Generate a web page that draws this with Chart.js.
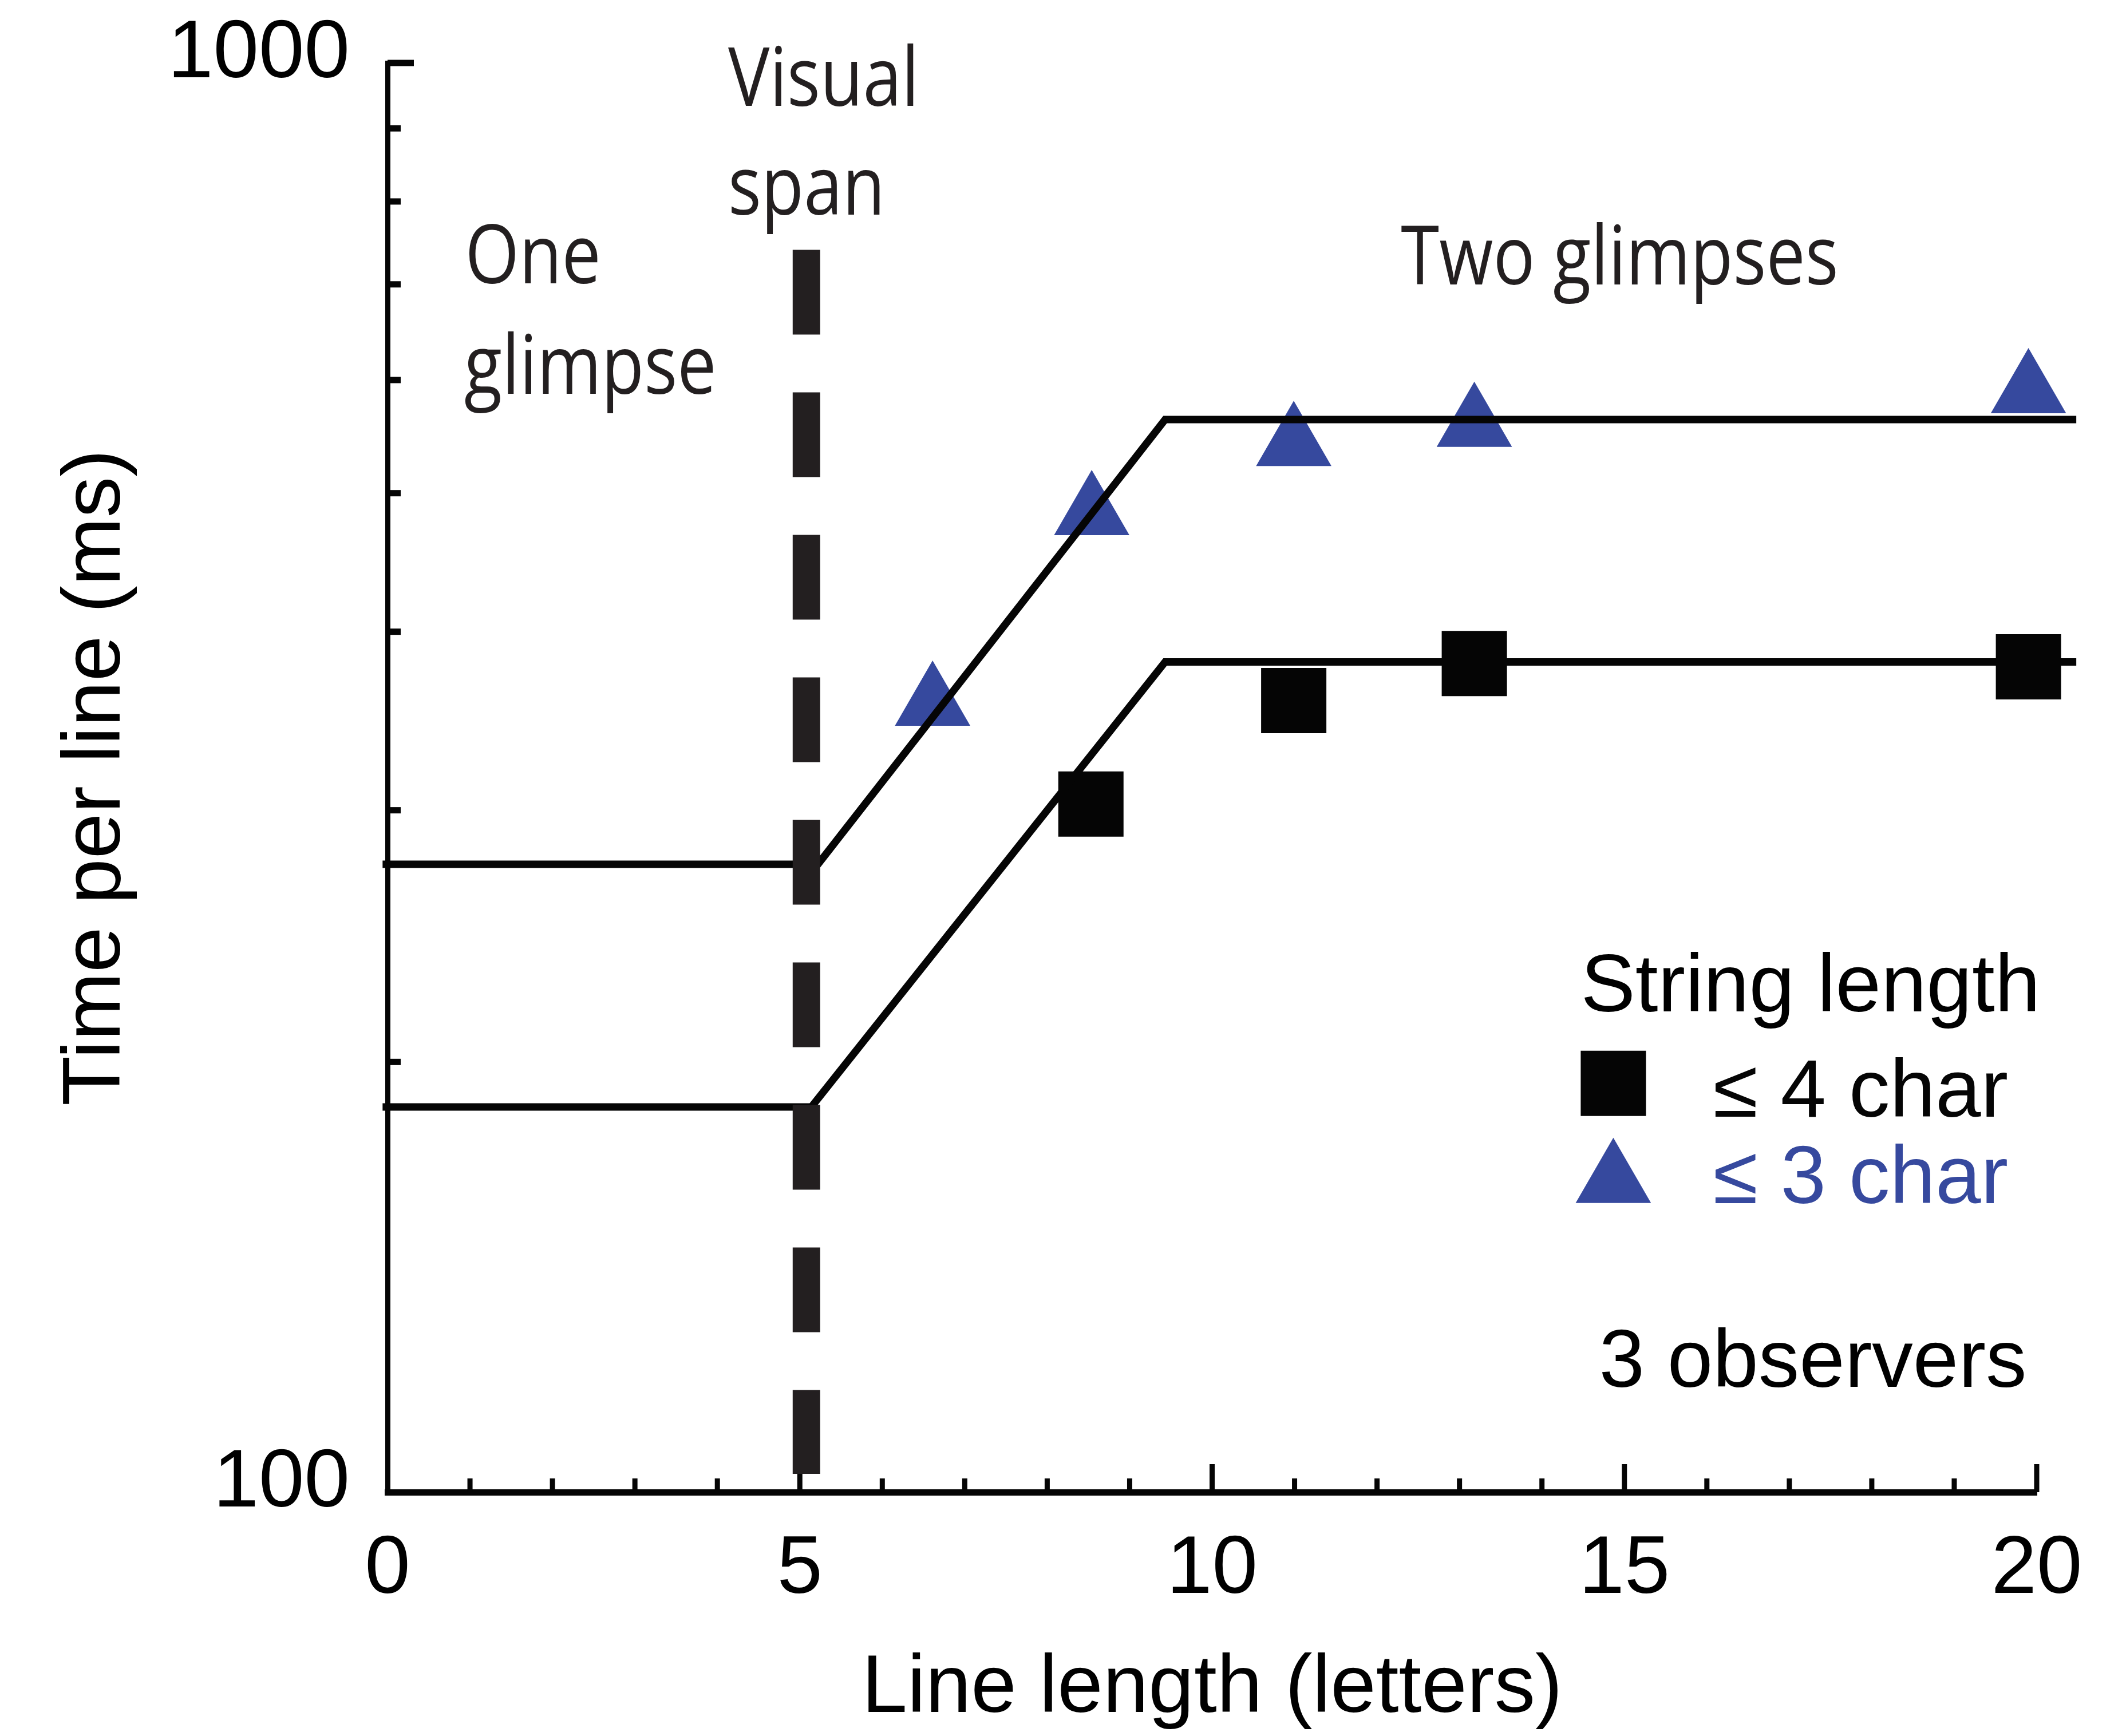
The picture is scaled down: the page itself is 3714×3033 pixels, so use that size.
<!DOCTYPE html>
<html>
<head>
<meta charset="utf-8">
<script src="https://cdn.jsdelivr.net/npm/chart.js@4.4.1/dist/chart.umd.min.js"></script>
<style>
html, body { margin: 0; padding: 0; background: #fff; }
canvas { display: block; }
</style>
</head>
<body>
<canvas id="grafico" width="3714" height="3033"></canvas>
<script>
// data
var triangleX = [6.61, 8.54, 10.99, 13.18, 19.9];
var triangleY = [356, 484, 541, 558, 589];
var squareX = [8.53, 10.99, 13.18, 19.9];
var squareY = [303, 358, 380, 378];

var fitUpperX = [-0.06, 5.22, 9.43, 20.48];
var fitUpperY = [275, 275, 563, 563];
var fitLowerX = [-0.06, 5.14, 9.43, 20.48];
var fitLowerY = [186, 186, 381, 381];

var spanX = [5.08, 5.08];
var spanY = [740, 103];

var xTickLabels = [0, 5, 10, 15, 20];
var yTickLabels = [100, 1000];

var notes = ['Visual', 'span', 'One', 'glimpse', 'Two glimpses'];
var notesX = [4.13, 4.13, 0.94, 0.93, 12.29];
var notesY = [933, 783, 701, 587, 700];

var legendTitle = 'String length';
var legendLabels = ['\u2264 4 char', '\u2264 3 char'];
var observersText = '3 observers';
var legendAnchor = [14.47, 217];

var BLUE = '#36499e';
var BLACK = '#050505';
var FONT = '"Liberation Sans", Arial, sans-serif';

function pts(xs, ys) {
    return xs.map(function (v, i) { return { x: v, y: ys[i] }; });
}

// inward tick marks, drawn from the scales' own ticks
var innerTicks = {
    id: 'innerTicks',
    beforeDatasetsDraw: function (chart) {
        var ctx = chart.ctx, area = chart.chartArea;
        var xs = chart.scales.x, ys = chart.scales.y;
        ctx.save();
        ctx.strokeStyle = BLACK;
        ctx.lineCap = 'butt';
        ctx.lineWidth = 9;
        xs.ticks.forEach(function (t) {
            if (t.value <= 0 || t.value % 1 !== 0) return;
            var px = xs.getPixelForValue(t.value);
            var len = t.value % 5 === 0 ? 49 : 24;
            ctx.beginPath();
            ctx.moveTo(px, area.bottom);
            ctx.lineTo(px, area.bottom - len);
            ctx.stroke();
        });
        ctx.lineWidth = 11;
        ys.ticks.forEach(function (t) {
            if (t.value <= 100 || Math.abs(t.value % 100) > 1e-6) return;
            var py = ys.getPixelForValue(t.value);
            var len = t.value === 1000 ? 46 : 23;
            ctx.beginPath();
            ctx.moveTo(area.left, py);
            ctx.lineTo(area.left + len, py);
            ctx.stroke();
        });
        ctx.restore();
    }
};

var textLayer = {
    id: 'textLayer',
    afterDraw: function (chart) {
        var ctx = chart.ctx;
        var xs = chart.scales.x, ys = chart.scales.y;
        ctx.save();
        ctx.textBaseline = 'alphabetic';
        ctx.textAlign = 'left';

        // condensed annotation text
        ctx.fillStyle = '#231f20';
        ctx.font = '143px "Open Sans"';
        notes.forEach(function (txt, i) {
            ctx.save();
            ctx.translate(xs.getPixelForValue(notesX[i]), ys.getPixelForValue(notesY[i]));
            ctx.scale(0.85, 1);
            ctx.fillText(txt, 0, 0);
            ctx.restore();
        });

        // legend
        var lx = xs.getPixelForValue(legendAnchor[0]);
        var ly = ys.getPixelForValue(legendAnchor[1]);
        ctx.font = '143px ' + FONT;
        ctx.fillStyle = '#000';
        ctx.fillText(legendTitle, lx, ly);

        ctx.fillStyle = BLACK;
        Chart.helpers.drawPoint(ctx, { pointStyle: 'rect', radius: 80.6, rotation: 0, borderWidth: 0 }, lx + 57, ly + 126);
        ctx.fillText(legendLabels[0], lx + 231, ly + 184);

        ctx.fillStyle = BLUE;
        Chart.helpers.drawPoint(ctx, { pointStyle: 'triangle', radius: 76, rotation: 0, borderWidth: 0 }, lx + 57, ly + 297);
        ctx.fillText(legendLabels[1], lx + 231, ly + 335);

        ctx.fillStyle = '#000';
        ctx.fillText(observersText, lx + 32, ly + 656);
        ctx.restore();
    }
};

Chart.defaults.font.family = FONT;
Chart.defaults.color = '#000';

var ctx = document.getElementById('grafico').getContext('2d');
var chart = new Chart(ctx, {
    type: 'line',
    data: {
        datasets: [{
            label: 'Visual span',
            data: pts(spanX, spanY),
            borderColor: '#231f20',
            borderWidth: 48,
            borderDash: [148, 101],
            borderCapStyle: 'butt',
            pointRadius: 0,
            clip: false,
            order: 0
        }, {
            label: 'fit 3 char',
            data: pts(fitUpperX, fitUpperY),
            borderColor: BLACK,
            borderWidth: 13,
            pointRadius: 0,
            tension: 0,
            clip: false,
            order: 1
        }, {
            label: 'fit 4 char',
            data: pts(fitLowerX, fitLowerY),
            borderColor: BLACK,
            borderWidth: 13,
            pointRadius: 0,
            tension: 0,
            clip: false,
            order: 1
        }, {
            label: legendLabels[0],
            data: pts(squareX, squareY),
            showLine: false,
            pointStyle: 'rect',
            pointRadius: 80.6,
            pointBackgroundColor: BLACK,
            pointBorderWidth: 0,
            clip: false,
            order: 2
        }, {
            label: legendLabels[1],
            data: pts(triangleX, triangleY),
            showLine: false,
            pointStyle: 'triangle',
            pointRadius: 76,
            pointBackgroundColor: BLUE,
            pointBorderWidth: 0,
            clip: false,
            order: 2
        }]
    },
    options: {
        responsive: false,
        animation: false,
        devicePixelRatio: 1,
        layout: { padding: { left: 0, top: 110, right: 156, bottom: 0 } },
        plugins: { legend: { display: false }, tooltip: { enabled: false } },
        scales: {
            x: {
                type: 'linear',
                min: 0,
                max: 20,
                grid: { display: false, drawTicks: false },
                border: { display: true, width: 11, color: BLACK },
                ticks: {
                    stepSize: 1,
                    autoSkip: false,
                    maxRotation: 0,
                    padding: 65,
                    font: { size: 143, lineHeight: 1 },
                    callback: function (v) { return xTickLabels.indexOf(v) >= 0 ? String(v) : ''; }
                },
                title: {
                    display: true,
                    text: 'Line length (letters)',
                    font: { size: 143, lineHeight: 1 },
                    padding: { top: 0, bottom: 10 }
                },
                afterFit: function (s) {
                    s.height = 426;
                    s.paddingLeft = 0;
                    s.paddingRight = 0;
                }
            },
            y: {
                type: 'logarithmic',
                min: 100,
                max: 1000,
                grid: { display: false, drawTicks: false },
                border: { display: true, width: 9, color: BLACK },
                ticks: {
                    autoSkip: false,
                    padding: 66,
                    labelOffset: -14,
                    font: { size: 143, lineHeight: 1 },
                    callback: function (v) { return yTickLabels.indexOf(v) >= 0 ? String(v) : ''; }
                },
                title: {
                    display: true,
                    text: 'Time per line (ms)',
                    font: { size: 143, lineHeight: 1 },
                    padding: { top: 98, bottom: 0 }
                },
                afterFit: function (s) {
                    s.width = 677;
                    s.paddingTop = 0;
                    s.paddingBottom = 0;
                }
            }
        }
    },
    plugins: [innerTicks, textLayer]
});
</script>
</body>
</html>
